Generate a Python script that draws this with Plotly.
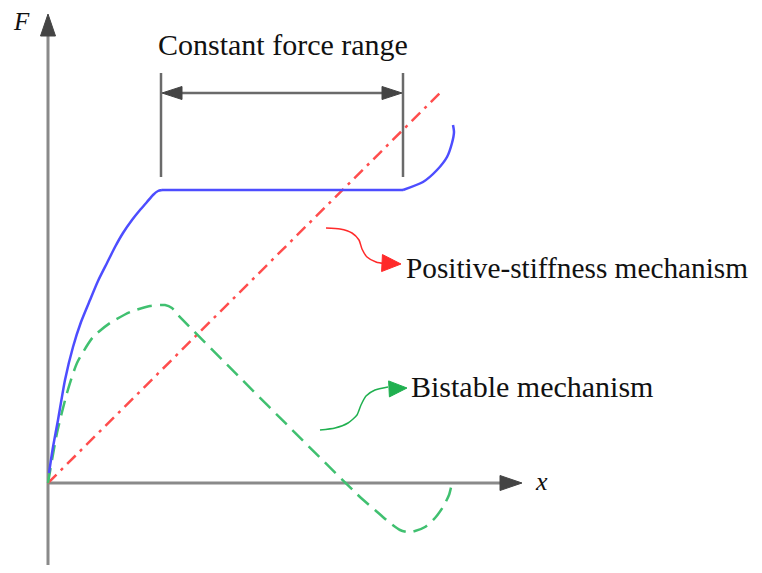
import plotly.graph_objects as go

# ---- data (schematic units: displacement x, force F) ----
blue_x = [1, 5, 10, 17, 25, 33, 42, 50, 59, 67, 75, 84, 92, 99, 105, 110, 114,
          355, 375, 389, 399, 404, 406, 405]
blue_F = [10, 36, 63, 103, 136, 161, 183, 202, 220, 236, 250, 263, 273, 281, 288, 292, 293,
          293, 301, 313, 326, 340, 351, 358]

green_x = [0, 9, 19, 29, 45, 62, 82, 102, 117, 124, 130,
           312, 327, 342, 352, 359, 367, 377, 387, 395, 401, 404]
green_F = [0, 50, 90, 120, 146, 160, 171, 177, 178, 175, 168,
           -14, -27, -40, -47, -49, -48, -44, -35, -24, -12, 0]

red_x = [0, 395]
red_F = [0, 393]

# constant-force range limits (x positions)
range_x = [113, 355]

# pointer curves for the labels
red_ptr_x = [278, 292, 304, 311, 314, 319, 328, 338]
red_ptr_F = [255, 254, 250, 243, 234, 226, 221, 219]
green_ptr_x = [272, 287, 300, 309, 313, 318, 327, 340]
green_ptr_F = [53, 55, 60, 68, 78, 87, 93, 96]

FONT = "Liberation Serif, Times New Roman, serif"
AX = "#8a8a8a"
HEAD = "#444444"

fig = go.Figure()


def head(tip, direction, length, width, color):
    tx, ty = tip
    dx, dy = direction
    n = (dx * dx + dy * dy) ** 0.5
    dx, dy = dx / n, dy / n
    bx, by = tx - dx * length, ty - dy * length
    px, py = -dy * width / 2, dx * width / 2
    fig.add_trace(go.Scatter(
        x=[tx, bx + px, bx - px, tx], y=[ty, by + py, by - py, ty],
        mode="lines", fill="toself", fillcolor=color,
        line=dict(color=color, width=1), hoverinfo="skip", showlegend=False))


def seg(xs, ys, color, width, dash="solid", shape="linear"):
    fig.add_trace(go.Scatter(x=xs, y=ys, mode="lines",
                             line=dict(color=color, width=width, dash=dash,
                                       shape=shape, smoothing=0.6),
                             hoverinfo="skip", showlegend=False))


# axes
seg([0, 0], [-100, 450], AX, 3)
head((0, 469), (0, 1), 22, 15, HEAD)
seg([0, 455], [0, 0], AX, 3)
head((474, 0), (1, 0), 22, 15, HEAD)

# curves
seg(red_x, red_F, "#ff4d4d", 2.5, "12px,6px,3px,6px")
seg(green_x, green_F, "#40c070", 2.5, "15px,8px", "spline")
BLUE = "#4d4dff"
seg(blue_x[:17], blue_F[:17], BLUE, 2.5, "solid", "spline")
seg(blue_x[16:18], blue_F[16:18], BLUE, 2.5)
seg(blue_x[17:], blue_F[17:], BLUE, 2.5, "solid", "spline")

# constant force range dimension
dim_c = "#6a6a6a"
for rx in range_x:
    seg([rx, rx], [306, 410], dim_c, 2.5)
seg([range_x[0] + 15, range_x[1] - 15], [390, 390], dim_c, 2.5)
head((range_x[0] + 1, 390), (-1, 0), 20, 13, HEAD)
head((range_x[1] - 1, 390), (1, 0), 20, 13, HEAD)

# pointer arrows
seg(red_ptr_x, red_ptr_F, "#ff2a2a", 1.5, "solid", "spline")
head((353, 219), (1, -0.05), 19, 17, "#ff2a2a")
seg(green_ptr_x, green_ptr_F, "#20b050", 1.5, "solid", "spline")
head((359, 95), (1, 0.05), 18, 16, "#20b050")

ann = [
    dict(x=235, y=439, text="Constant force range", xanchor="center", yanchor="middle",
         font=dict(size=30)),
    dict(x=356, y=215, text="Positive-stiffness mechanism", xanchor="left", yanchor="middle",
         font=dict(size=29.3)),
    dict(x=361, y=97, text="Bistable mechanism", xanchor="left", yanchor="middle",
         font=dict(size=30)),
    dict(x=-27, y=462, text="<i>F</i>", xanchor="center", yanchor="middle",
         font=dict(size=25)),
    dict(x=493, y=2, text="<i>x</i>", xanchor="center", yanchor="middle",
         font=dict(size=26)),
]
for a in ann:
    a["font"]["family"] = FONT
    a["font"]["color"] = "#111111"
    a.update(xref="x", yref="y", showarrow=False)

fig.update_layout(
    width=746, height=557,
    margin=dict(l=0, r=0, t=0, b=0),
    paper_bgcolor="white", plot_bgcolor="white",
    xaxis=dict(range=[-40, 706], visible=False, fixedrange=True),
    yaxis=dict(range=[-82, 475], visible=False, fixedrange=True),
    annotations=ann,
    showlegend=False,
)
fig.write_html("out.html")
